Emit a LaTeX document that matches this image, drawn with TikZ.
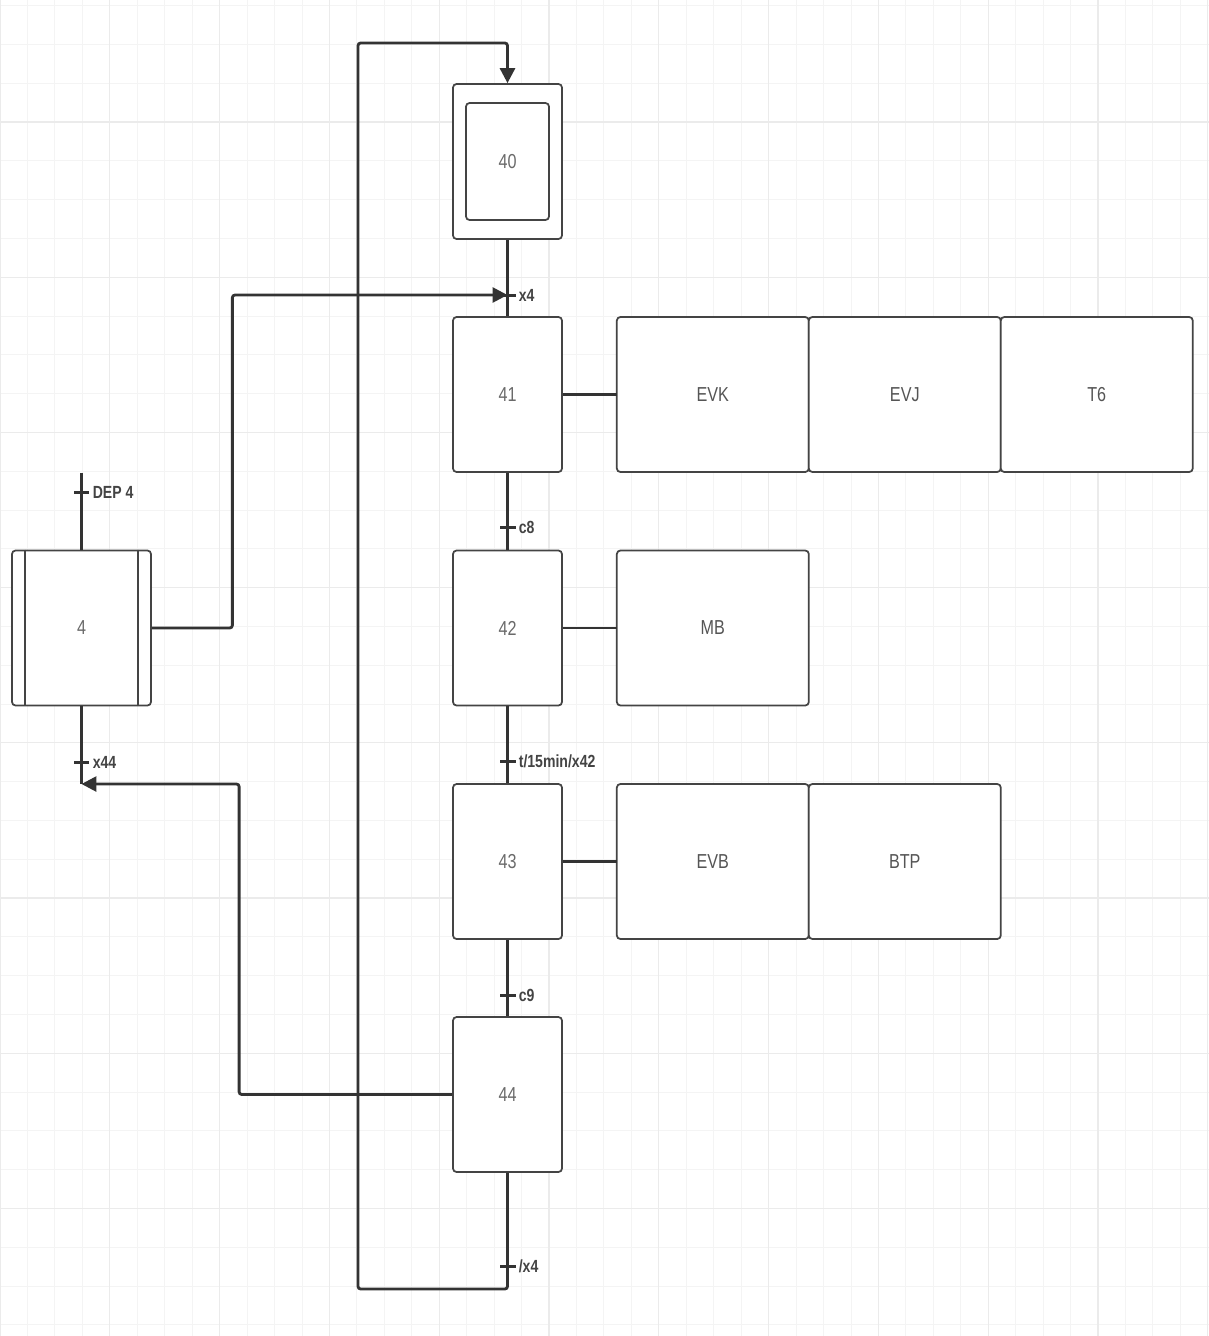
\documentclass[tikz,border=0pt]{standalone}
\usepackage{fontspec}
\setmainfont{Liberation Sans}[FakeStretch=0.8]
\usepackage{xcolor}
\usetikzlibrary{arrows.meta,positioning,calc}

\definecolor{lineclr}{HTML}{333333}
\definecolor{boxclr}{HTML}{444444}
\definecolor{stepclr}{HTML}{6A6A6A}
\definecolor{actclr}{HTML}{555555}
\definecolor{labclr}{HTML}{444444}

\begin{document}
\begin{tikzpicture}[
    x=0.02cm, y=-0.02cm,
    stepbox/.style={rectangle, draw=boxclr, line width=1pt, rounded corners=2pt, fill=white, minimum width=2.18cm, minimum height=3.1cm, inner sep=0pt, text=stepclr, font=\fontsize{11.5}{13}\selectfont},
    actbox/.style={stepbox, minimum width=3.84cm, outer sep=0pt, text=actclr},
    trans/.style={rectangle, fill=lineclr, minimum width=0.32cm, minimum height=0.06cm, inner sep=0pt},
    translabel/.style={text=labclr, font=\bfseries\fontsize{10}{12}\selectfont, inner sep=1.5pt},
    flow/.style={draw=lineclr, line width=1.6pt, rounded corners=1.5pt},
    tip/.style={-{Triangle[length=0.3cm,width=0.3cm]}},
    gridminor/.style={draw=gray!9, line width=0.5pt},
    gridmajor/.style={draw=gray!16, line width=0.7pt}
]
    \useasboundingbox (0,0) rectangle (1209,1336);
    \fill[white] (0,0) rectangle (1209,1336);

    % Grid
    \foreach \i in {0,...,44} \draw[gridminor] (\i*27.45,0) -- (\i*27.45,1336);
    \foreach \j in {0,...,34} \draw[gridminor] (0,5.6+\j*38.8) -- (1209,5.6+\j*38.8);
    \foreach \i in {0,...,11} \draw[gridmajor] (\i*109.8,0) -- (\i*109.8,1336);
    \foreach \j in {0,...,7} \draw[gridmajor] (0,122+\j*155.2) -- (1209,122+\j*155.2);

    % Steps
    \node[stepbox] (s40) at (507.5,161.5) {};
    \node[stepbox, minimum width=1.66cm, minimum height=2.34cm] (s40i) at (s40) {40};
    \node[stepbox] (s41) at (507.5,394.5) {41};
    \node[stepbox] (s42) at (507.5,628) {42};
    \node[stepbox] (s43) at (507.5,861.5) {43};
    \node[stepbox] (s44) at (507.5,1094.5) {44};
    \node[stepbox, minimum width=2.78cm] (s4) at (81.5,628) {4};
    \draw[boxclr, line width=1pt] ([xshift=0.28cm]s4.north west) -- ([xshift=0.28cm]s4.south west);
    \draw[boxclr, line width=1pt] ([xshift=-0.28cm]s4.north east) -- ([xshift=-0.28cm]s4.south east);

    % Actions
    \node[actbox, right=1.08cm of s41] (evk) {EVK};
    \node[actbox, right=0pt of evk] (evj) {EVJ};
    \node[actbox, right=0pt of evj] (t6) {T6};
    \node[actbox, right=1.08cm of s42] (mb) {MB};
    \node[actbox, right=1.08cm of s43] (evb) {EVB};
    \node[actbox, right=0pt of evb] (btp) {BTP};

    % Transitions
    \node[trans, label={[translabel]right:x4}] (tx4) at (507.5,295) {};
    \node[trans, label={[translabel]right:c8}] (tc8) at (507.5,527) {};
    \node[trans, label={[translabel]right:t/15min/x42}] (tt15) at (507.5,761) {};
    \node[trans, label={[translabel]right:c9}] (tc9) at (507.5,995) {};
    \node[trans, label={[translabel]right:/x4}] (tnx4) at (507.5,1266) {};
    \node[trans, label={[translabel]right:DEP 4}] (tdep) at (81.5,492) {};
    \node[trans, label={[translabel]right:x44}] (tx44) at (81.5,762) {};

    \coordinate (dep) at (81.5,473);
    \coordinate (j4) at (81.5,784);
    \coordinate (lb) at (358,1289);
    \coordinate (lt) at (358,43);

    % Links
    \draw[flow] (s40) -- (s41);
    \draw[flow] (s41) -- (s42);
    \draw[flow] (s42) -- (s43);
    \draw[flow] (s43) -- (s44);
    \draw[flow] (s41) -- (evk);
    \draw[flow] (s42) -- (mb);
    \draw[flow] (s43) -- (evb);
    \draw[flow] (dep) -- (s4);
    \draw[flow] (s4) -- (j4);

    \draw[flow, tip] (s44.south) |- (lb) -- (lt) -| (s40.north);
    \draw[flow, tip] (s4.east) -- ++(80.5,0) |- (tx4.center);
    \draw[flow, tip] (s44.west) -- ++(-213,0) |- (j4);
\end{tikzpicture}
\end{document}
